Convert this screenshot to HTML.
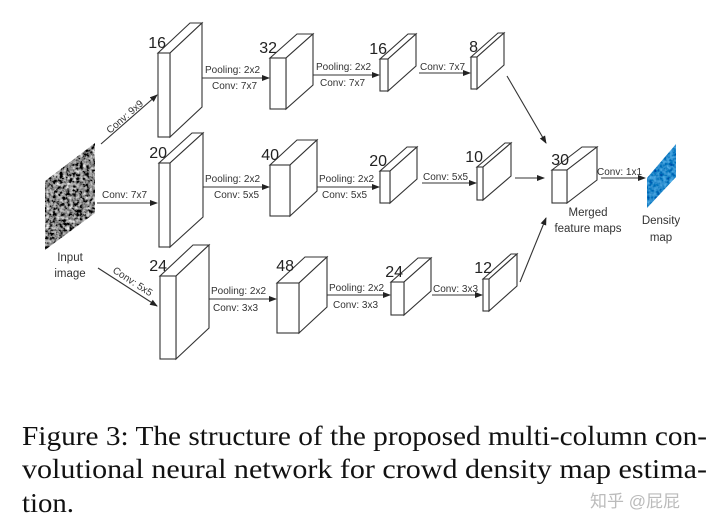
<!DOCTYPE html>
<html><head><meta charset="utf-8"><style>
html,body{margin:0;padding:0;background:#fff;}
svg{display:block;}
.l{font-family:"Liberation Sans",sans-serif;font-size:10px;fill:#333;}
.n{font-family:"Liberation Sans",sans-serif;font-size:16px;fill:#222;text-anchor:end;}
.c{font-family:"Liberation Serif",serif;font-size:27px;fill:#111;}
.bx polygon,.bx rect{fill:#fff;stroke:#333;stroke-width:1.1;}
.ar{stroke:#333;stroke-width:1.1;fill:none;marker-end:url(#ah);}
</style></head><body>
<svg width="720" height="531" viewBox="0 0 720 531" xmlns="http://www.w3.org/2000/svg">
<defs>
<marker id="ah" markerWidth="8" markerHeight="8" refX="7" refY="3" orient="auto" markerUnits="userSpaceOnUse"><path d="M0,0 L8,3 L0,6 z" fill="#222"/></marker>
<filter id="noise" x="0" y="0" width="100%" height="100%"><feTurbulence type="fractalNoise" baseFrequency="0.3" numOctaves="3" seed="3"/><feColorMatrix type="matrix" values="0.33 0.33 0.33 0 0 0.33 0.33 0.33 0 0 0.33 0.33 0.33 0 0 0 0 0 0 1"/><feComponentTransfer><feFuncR type="linear" slope="3" intercept="-1.25"/><feFuncG type="linear" slope="3" intercept="-1.25"/><feFuncB type="linear" slope="3" intercept="-1.25"/></feComponentTransfer></filter>
<filter id="blue" x="0" y="0" width="100%" height="100%"><feTurbulence type="fractalNoise" baseFrequency="0.3" numOctaves="2" seed="7"/><feColorMatrix type="matrix" values="0.2 0 0 0 -0.08  0.6 0 0 0 -0.05  0.7 0 0 0 0.25  0 0 0 0 1"/></filter>
<clipPath id="inp"><polygon points="45,181 95,143 95,213 45,250"/></clipPath>
<clipPath id="den"><polygon points="647,178 676,144 676,177 647,208"/></clipPath>
</defs>

<rect x="40" y="140" width="60" height="115" filter="url(#noise)" clip-path="url(#inp)"/>
<rect x="640" y="140" width="40" height="72" filter="url(#blue)" clip-path="url(#den)"/>

<g class="bx">
<polygon points="158,53 190,23 202,23 170,53"/><polygon points="170,53 202,23 202,107 170,137"/><rect x="158" y="53" width="12" height="84"/>
<polygon points="270,58 297,34 313,34 286,58"/><polygon points="286,58 313,34 313,85 286,109"/><rect x="270" y="58" width="16" height="51"/>
<polygon points="380,59 408,34 416,34 388,59"/><polygon points="388,59 416,34 416,66 388,91"/><rect x="380" y="59" width="8" height="32"/>
<polygon points="471,57 498,33 504,33 477,57"/><polygon points="477,57 504,33 504,65 477,89"/><rect x="471" y="57" width="6" height="32"/>
<polygon points="159,163 192,133 203,133 170,163"/><polygon points="170,163 203,133 203,217 170,247"/><rect x="159" y="163" width="11" height="84"/>
<polygon points="270,165 297,140 317,140 290,165"/><polygon points="290,165 317,140 317,191 290,216"/><rect x="270" y="165" width="20" height="51"/>
<polygon points="380,171 407,147 417,147 390,171"/><polygon points="390,171 417,147 417,179 390,203"/><rect x="380" y="171" width="10" height="32"/>
<polygon points="477,167 505,143 511,143 483,167"/><polygon points="483,167 511,143 511,176 483,200"/><rect x="477" y="167" width="6" height="33"/>
<polygon points="552,170 582,147 597,147 567,170"/><polygon points="567,170 597,147 597,180 567,203"/><rect x="552" y="170" width="15" height="33"/>
<polygon points="160,276 193,245 209,245 176,276"/><polygon points="176,276 209,245 209,328 176,359"/><rect x="160" y="276" width="16" height="83"/>
<polygon points="277,283 305,257 327,257 299,283"/><polygon points="299,283 327,257 327,307 299,333"/><rect x="277" y="283" width="22" height="50"/>
<polygon points="391,282 418,258 431,258 404,282"/><polygon points="404,282 431,258 431,291 404,315"/><rect x="391" y="282" width="13" height="33"/>
<polygon points="483,279 511,254 517,254 489,279"/><polygon points="489,279 517,254 517,286 489,311"/><rect x="483" y="279" width="6" height="32"/>
</g>

<text class="n" x="166" y="48">16</text>
<text class="n" x="277" y="53">32</text>
<text class="n" x="387" y="54">16</text>
<text class="n" x="478" y="52">8</text>
<text class="n" x="167" y="158">20</text>
<text class="n" x="279" y="160">40</text>
<text class="n" x="387" y="166">20</text>
<text class="n" x="483" y="162">10</text>
<text class="n" x="569" y="165">30</text>
<text class="n" x="167" y="271">24</text>
<text class="n" x="294" y="271">48</text>
<text class="n" x="403" y="277">24</text>
<text class="n" x="492" y="273">12</text>

<line class="ar" x1="101" y1="144" x2="157" y2="95"/>
<line class="ar" x1="97" y1="203" x2="157" y2="203"/>
<line class="ar" x1="98" y1="268" x2="157" y2="306"/>
<line class="ar" x1="202" y1="78" x2="269" y2="78"/>
<line class="ar" x1="313" y1="75" x2="379" y2="75"/>
<line class="ar" x1="419" y1="73" x2="470" y2="73"/>
<line class="ar" x1="203" y1="187" x2="269" y2="187"/>
<line class="ar" x1="317" y1="187" x2="379" y2="187"/>
<line class="ar" x1="422" y1="183" x2="476" y2="183"/>
<line class="ar" x1="515" y1="178" x2="544" y2="178"/>
<line class="ar" x1="601" y1="178" x2="645" y2="178"/>
<line class="ar" x1="209" y1="299" x2="276" y2="299"/>
<line class="ar" x1="327" y1="295" x2="390" y2="295"/>
<line class="ar" x1="432" y1="295" x2="482" y2="295"/>
<line class="ar" x1="507" y1="76" x2="546" y2="143"/>
<line class="ar" x1="520" y1="282" x2="546" y2="218"/>

<text class="l" transform="translate(110,134) rotate(-41)">Conv: 9x9</text>
<text class="l" x="102" y="198">Conv: 7x7</text>
<text class="l" transform="translate(112,272) rotate(33)">Conv: 5x5</text>
<text class="l" x="205" y="73">Pooling: 2x2</text><text class="l" x="212" y="89">Conv: 7x7</text>
<text class="l" x="316" y="70">Pooling: 2x2</text><text class="l" x="320" y="86">Conv: 7x7</text>
<text class="l" x="420" y="70">Conv: 7x7</text>
<text class="l" x="205" y="182">Pooling: 2x2</text><text class="l" x="214" y="198">Conv: 5x5</text>
<text class="l" x="319" y="182">Pooling: 2x2</text><text class="l" x="322" y="198">Conv: 5x5</text>
<text class="l" x="423" y="180">Conv: 5x5</text>
<text class="l" x="597" y="175">Conv: 1x1</text>
<text class="l" x="211" y="294">Pooling: 2x2</text><text class="l" x="213" y="311">Conv: 3x3</text>
<text class="l" x="329" y="291">Pooling: 2x2</text><text class="l" x="333" y="308">Conv: 3x3</text>
<text class="l" x="433" y="292">Conv: 3x3</text>
<text class="l" x="70" y="261" text-anchor="middle" style="font-size:11.5px">Input</text>
<text class="l" x="70" y="277" text-anchor="middle" style="font-size:11.5px">image</text>
<text class="l" x="588" y="216" text-anchor="middle" style="font-size:11.5px">Merged</text>
<text class="l" x="588" y="232" text-anchor="middle" style="font-size:11.5px">feature maps</text>
<text class="l" x="661" y="224" text-anchor="middle" style="font-size:11.5px">Density</text>
<text class="l" x="661" y="241" text-anchor="middle" style="font-size:11.5px">map</text>

<text class="c" x="22" y="445" textLength="685" lengthAdjust="spacingAndGlyphs">Figure 3: The structure of the proposed multi-column con-</text>
<text class="c" x="22" y="478" textLength="685" lengthAdjust="spacingAndGlyphs">volutional neural network for crowd density map estima-</text>
<text class="c" x="22" y="512" textLength="52" lengthAdjust="spacingAndGlyphs">tion.</text>
<text x="590" y="507" style="font-family:'Liberation Sans','Noto Sans CJK SC',sans-serif;font-size:17px;fill:#bbb">知乎 @屁屁</text>
</svg>
</body></html>
